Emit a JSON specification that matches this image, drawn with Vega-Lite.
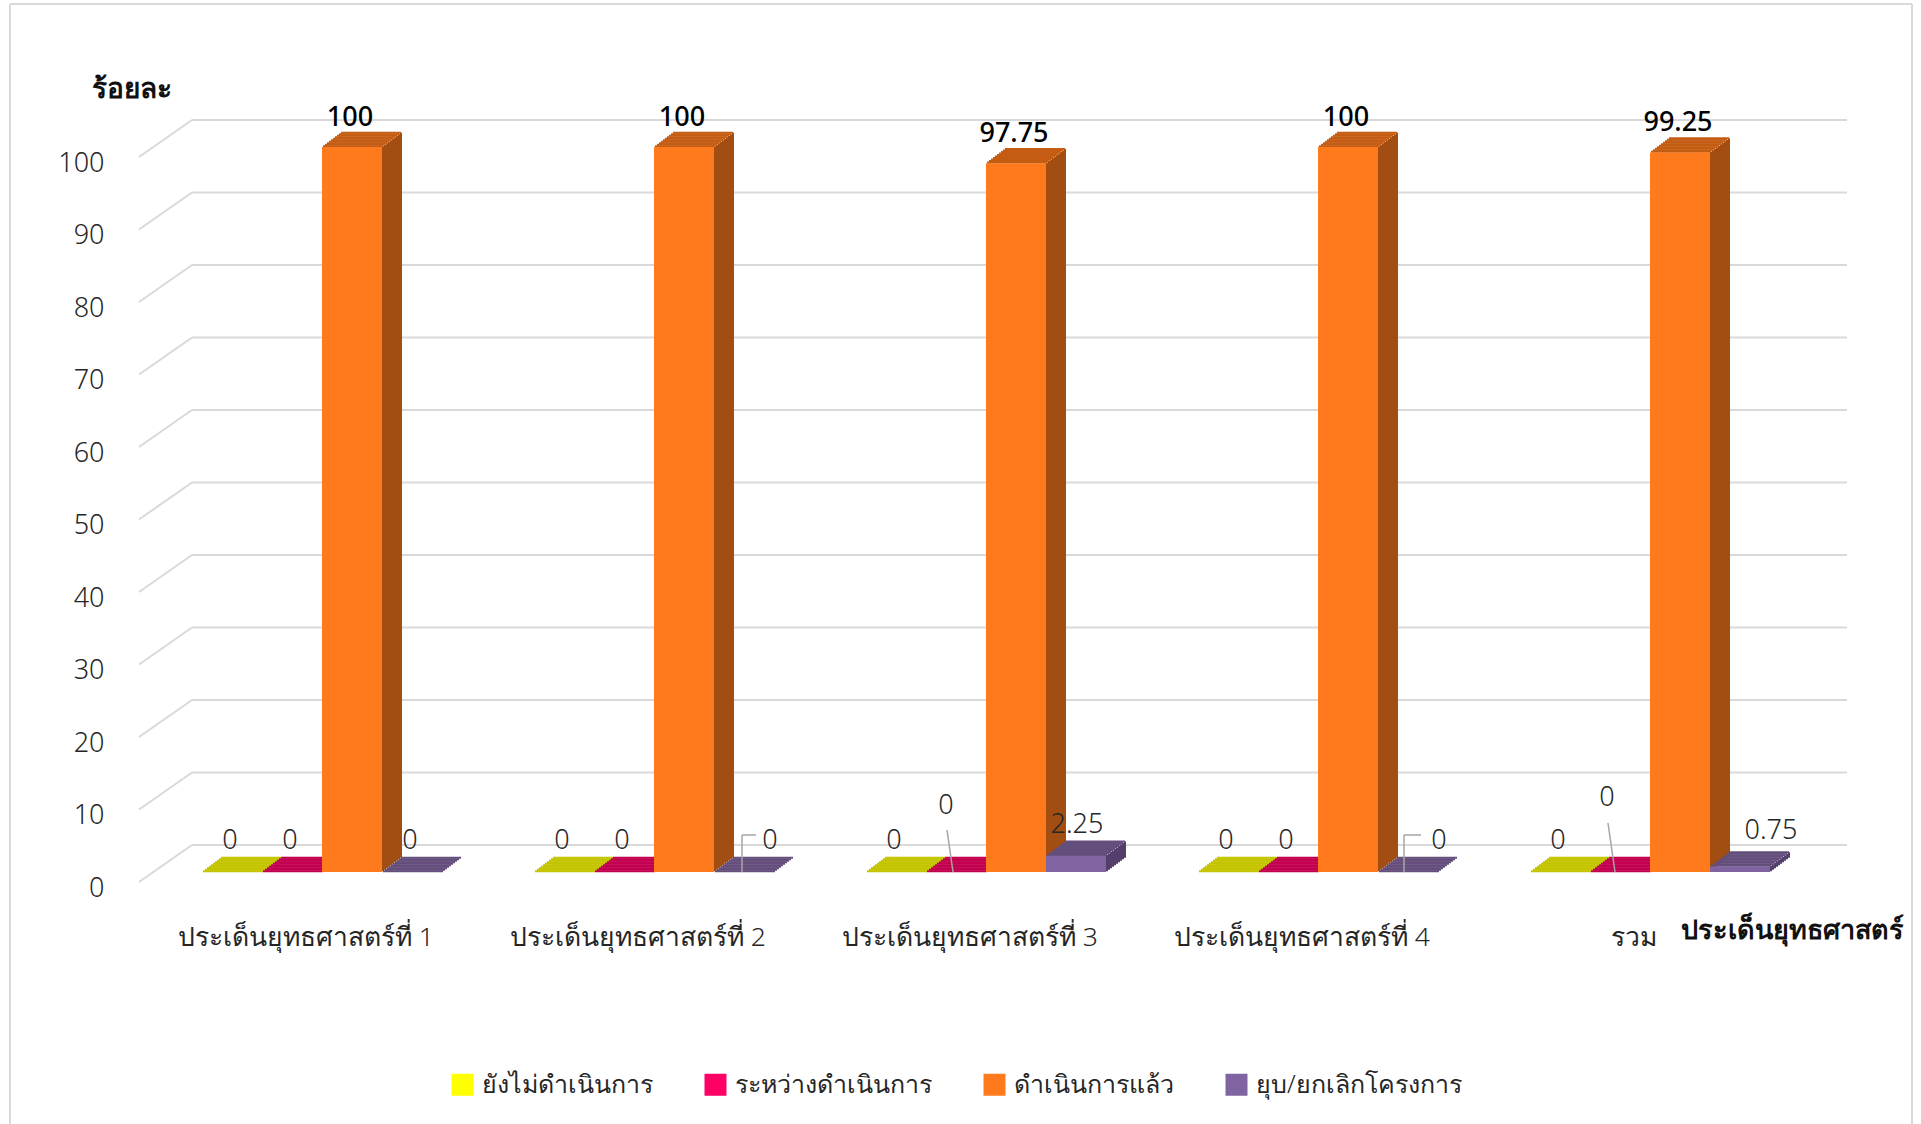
{"$schema":"https://vega.github.io/schema/vega-lite/v6.json","autosize":{"type":"none"},"width":1660,"height":725,"padding":{"left":156,"top":147,"right":105,"bottom":252},"background":"white","config":{"font":"Noto Sans","view":{"stroke":null},"text":{"font":"Noto Sans"},"tick":{"opacity":1},"rule":{"opacity":1}},
"data":{"values":[
{"category":"ประเด็นยุทธศาสตร์ที่ 1","series":"ยังไม่ดำเนินการ","value":0},{"category":"ประเด็นยุทธศาสตร์ที่ 1","series":"ระหว่างดำเนินการ","value":0},{"category":"ประเด็นยุทธศาสตร์ที่ 1","series":"ดำเนินการแล้ว","value":100},{"category":"ประเด็นยุทธศาสตร์ที่ 1","series":"ยุบ/ยกเลิกโครงการ","value":0},
{"category":"ประเด็นยุทธศาสตร์ที่ 2","series":"ยังไม่ดำเนินการ","value":0},{"category":"ประเด็นยุทธศาสตร์ที่ 2","series":"ระหว่างดำเนินการ","value":0},{"category":"ประเด็นยุทธศาสตร์ที่ 2","series":"ดำเนินการแล้ว","value":100},{"category":"ประเด็นยุทธศาสตร์ที่ 2","series":"ยุบ/ยกเลิกโครงการ","value":0},
{"category":"ประเด็นยุทธศาสตร์ที่ 3","series":"ยังไม่ดำเนินการ","value":0},{"category":"ประเด็นยุทธศาสตร์ที่ 3","series":"ระหว่างดำเนินการ","value":0},{"category":"ประเด็นยุทธศาสตร์ที่ 3","series":"ดำเนินการแล้ว","value":97.75},{"category":"ประเด็นยุทธศาสตร์ที่ 3","series":"ยุบ/ยกเลิกโครงการ","value":2.25},
{"category":"ประเด็นยุทธศาสตร์ที่ 4","series":"ยังไม่ดำเนินการ","value":0},{"category":"ประเด็นยุทธศาสตร์ที่ 4","series":"ระหว่างดำเนินการ","value":0},{"category":"ประเด็นยุทธศาสตร์ที่ 4","series":"ดำเนินการแล้ว","value":100},{"category":"ประเด็นยุทธศาสตร์ที่ 4","series":"ยุบ/ยกเลิกโครงการ","value":0},
{"category":"รวม","series":"ยังไม่ดำเนินการ","value":0},{"category":"รวม","series":"ระหว่างดำเนินการ","value":0},{"category":"รวม","series":"ดำเนินการแล้ว","value":99.25},{"category":"รวม","series":"ยุบ/ยกเลิกโครงการ","value":0.75}]},
"layer":[
{"mark":{"type":"bar"},"encoding":{
"x":{"field":"category","type":"nominal","scale":{"domain":["ประเด็นยุทธศาสตร์ที่ 1","ประเด็นยุทธศาสตร์ที่ 2","ประเด็นยุทธศาสตร์ที่ 3","ประเด็นยุทธศาสตร์ที่ 4","รวม"],"paddingInner":0.277,"paddingOuter":0.1385},"axis":{"labelAngle":0,"labelOffset":-16,"labelPadding":52,"labelFontSize":26.5,"labelFontWeight":300,"labelLimit":400,"labelColor":"#262626","ticks":false,"domain":false,"title":"ประเด็นยุทธศาสตร์","titleFontSize":27,"titleFontWeight":"bold","titleColor":"#111","titleX":1636,"titleY":58,"titleAlign":"center","titleBaseline":"middle"}},
"xOffset":{"field":"series","type":"nominal","scale":{"domain":["ยังไม่ดำเนินการ","ระหว่างดำเนินการ","ดำเนินการแล้ว","ยุบ/ยกเลิกโครงการ"],"paddingInner":0,"paddingOuter":0}},
"y":{"datum":0,"type":"quantitative","scale":{"domain":[0,100],"nice":false},"axis":{"values":[0,10,20,30,40,50,60,70,80,90,100],"labelOffset":16,"labelPadding":52,"labelFontSize":27,"labelFontWeight":300,"labelColor":"#262626","ticks":false,"domain":false,"grid":false,"title":"ร้อยละ","titleFontSize":28,"titleFontWeight":"bold","titleColor":"#111","titleAngle":0,"titleX":-25,"titleY":-58,"titleAlign":"center","titleBaseline":"middle"}},
"color":{"field":"series","type":"nominal","scale":{"domain":["ยังไม่ดำเนินการ","ระหว่างดำเนินการ","ดำเนินการแล้ว","ยุบ/ยกเลิกโครงการ"],"range":["#ffff00","#ff0066","#ff7a1c","#8064a2"]},"legend":{"title":null,"orient":"none","direction":"horizontal","legendX":294,"legendY":925,"symbolType":"square","symbolSize":484,"symbolStrokeWidth":0,"labelFontSize":25,"labelFontWeight":300,"labelLimit":400,"labelColor":"#262626","columnPadding":50,"labelOffset":7}}}},
{"data":{"values":[{"f":1}]},"mark":{"type":"rule","color":"#d9d9d9","strokeWidth":2,"xOffset":-312,"x2Offset":262,"yOffset":-143,"y2Offset":-143},"encoding":{"x":{"datum":"ประเด็นยุทธศาสตร์ที่ 1","type":"nominal"},"x2":{"datum":"รวม"},"y":{"datum":100,"type":"quantitative"},"y2":{"datum":100}}},
{"data":{"values":[{"f":1}]},"mark":{"type":"rule","color":"#d9d9d9","strokeWidth":2,"xOffset":-312,"x2Offset":-312,"yOffset":-143,"y2Offset":252},"encoding":{"x":{"datum":"ประเด็นยุทธศาสตร์ที่ 1","type":"nominal"},"x2":{"datum":"ประเด็นยุทธศาสตร์ที่ 1"},"y":{"datum":100,"type":"quantitative"},"y2":{"datum":0}}},
{"data":{"values":[{"f":1}]},"mark":{"type":"rule","color":"#d9d9d9","strokeWidth":2,"xOffset":262,"x2Offset":262,"yOffset":-143,"y2Offset":252},"encoding":{"x":{"datum":"รวม","type":"nominal"},"x2":{"datum":"รวม"},"y":{"datum":100,"type":"quantitative"},"y2":{"datum":0}}},
{"data":{"values":[{"v":0},{"v":10},{"v":20},{"v":30},{"v":40},{"v":50},{"v":60},{"v":70},{"v":80},{"v":90},{"v":100}]},
"layer":[
{"mark":{"type":"rule","color":"#d9d9d9","strokeWidth":2,"xOffset":-130,"x2Offset":197,"yOffset":-27,"y2Offset":-27},"encoding":{"x":{"datum":"ประเด็นยุทธศาสตร์ที่ 1","type":"nominal"},"x2":{"datum":"รวม"},"y":{"field":"v","type":"quantitative"},"y2":{"field":"v"}}},
{"mark":{"type":"rule","color":"#d9d9d9","strokeWidth":2,"xOffset":-183,"x2Offset":-130,"yOffset":10,"y2Offset":-27},"encoding":{"x":{"datum":"ประเด็นยุทธศาสตร์ที่ 1","type":"nominal"},"x2":{"datum":"ประเด็นยุทธศาสตร์ที่ 1"},"y":{"field":"v","type":"quantitative"},"y2":{"field":"v"}}}
]},
{"transform":[{"filter":"datum.value>0"}],
"encoding":{"x":{"field":"category","type":"nominal"},"y":{"field":"value","type":"quantitative"},"y2":{"datum":0},"stroke":{"field":"series","type":"nominal","legend":null,"scale":{"domain":["ยังไม่ดำเนินการ","ระหว่างดำเนินการ","ดำเนินการแล้ว","ยุบ/ยกเลิกโครงการ"],"range":["#9a9a00","#a0003e","#a24e12","#543e6b"]}}},
"layer":[
{"transform":[{"filter":"datum.series=='ดำเนินการแล้ว'"}],"layer":[
{"mark":{"type":"rule","strokeWidth":2,"xOffset":61,"yOffset":-0.75,"y2Offset":-0.75}},
{"mark":{"type":"rule","strokeWidth":2,"xOffset":63,"yOffset":-2.25,"y2Offset":-2.25}},
{"mark":{"type":"rule","strokeWidth":2,"xOffset":65,"yOffset":-3.75,"y2Offset":-3.75}},
{"mark":{"type":"rule","strokeWidth":2,"xOffset":67,"yOffset":-5.25,"y2Offset":-5.25}},
{"mark":{"type":"rule","strokeWidth":2,"xOffset":69,"yOffset":-6.75,"y2Offset":-6.75}},
{"mark":{"type":"rule","strokeWidth":2,"xOffset":71,"yOffset":-8.25,"y2Offset":-8.25}},
{"mark":{"type":"rule","strokeWidth":2,"xOffset":73,"yOffset":-9.75,"y2Offset":-9.75}},
{"mark":{"type":"rule","strokeWidth":2,"xOffset":75,"yOffset":-11.25,"y2Offset":-11.25}},
{"mark":{"type":"rule","strokeWidth":2,"xOffset":77,"yOffset":-12.75,"y2Offset":-12.75}},
{"mark":{"type":"rule","strokeWidth":2,"xOffset":79,"yOffset":-14.25,"y2Offset":-14.25}}
]},
{"transform":[{"filter":"datum.series=='ยุบ/ยกเลิกโครงการ'"}],"layer":[
{"mark":{"type":"rule","strokeWidth":2,"xOffset":121,"yOffset":-0.75,"y2Offset":-0.75}},
{"mark":{"type":"rule","strokeWidth":2,"xOffset":123,"yOffset":-2.25,"y2Offset":-2.25}},
{"mark":{"type":"rule","strokeWidth":2,"xOffset":125,"yOffset":-3.75,"y2Offset":-3.75}},
{"mark":{"type":"rule","strokeWidth":2,"xOffset":127,"yOffset":-5.25,"y2Offset":-5.25}},
{"mark":{"type":"rule","strokeWidth":2,"xOffset":129,"yOffset":-6.75,"y2Offset":-6.75}},
{"mark":{"type":"rule","strokeWidth":2,"xOffset":131,"yOffset":-8.25,"y2Offset":-8.25}},
{"mark":{"type":"rule","strokeWidth":2,"xOffset":133,"yOffset":-9.75,"y2Offset":-9.75}},
{"mark":{"type":"rule","strokeWidth":2,"xOffset":135,"yOffset":-11.25,"y2Offset":-11.25}},
{"mark":{"type":"rule","strokeWidth":2,"xOffset":137,"yOffset":-12.75,"y2Offset":-12.75}},
{"mark":{"type":"rule","strokeWidth":2,"xOffset":139,"yOffset":-14.25,"y2Offset":-14.25}}
]}
]},
{"encoding":{"x":{"field":"category","type":"nominal"},"y":{"field":"value","type":"quantitative"},"fill":{"field":"series","type":"nominal","legend":null,"scale":{"domain":["ยังไม่ดำเนินการ","ระหว่างดำเนินการ","ดำเนินการแล้ว","ยุบ/ยกเลิกโครงการ"],"range":["#c4c400","#c2004f","#c55c14","#644f7c"]}}},
"layer":[
{"transform":[{"filter":"datum.series=='ยังไม่ดำเนินการ'"}],"layer":[
{"mark":{"type":"tick","size":60,"thickness":2,"xOffset":-89,"yOffset":-0.75}},
{"mark":{"type":"tick","size":60,"thickness":2,"xOffset":-87,"yOffset":-2.25}},
{"mark":{"type":"tick","size":60,"thickness":2,"xOffset":-85,"yOffset":-3.75}},
{"mark":{"type":"tick","size":60,"thickness":2,"xOffset":-83,"yOffset":-5.25}},
{"mark":{"type":"tick","size":60,"thickness":2,"xOffset":-81,"yOffset":-6.75}},
{"mark":{"type":"tick","size":60,"thickness":2,"xOffset":-79,"yOffset":-8.25}},
{"mark":{"type":"tick","size":60,"thickness":2,"xOffset":-77,"yOffset":-9.75}},
{"mark":{"type":"tick","size":60,"thickness":2,"xOffset":-75,"yOffset":-11.25}},
{"mark":{"type":"tick","size":60,"thickness":2,"xOffset":-73,"yOffset":-12.75}},
{"mark":{"type":"tick","size":60,"thickness":2,"xOffset":-71,"yOffset":-14.25}}
]},
{"transform":[{"filter":"datum.series=='ระหว่างดำเนินการ'"}],"layer":[
{"mark":{"type":"tick","size":60,"thickness":2,"xOffset":-29,"yOffset":-0.75}},
{"mark":{"type":"tick","size":60,"thickness":2,"xOffset":-27,"yOffset":-2.25}},
{"mark":{"type":"tick","size":60,"thickness":2,"xOffset":-25,"yOffset":-3.75}},
{"mark":{"type":"tick","size":60,"thickness":2,"xOffset":-23,"yOffset":-5.25}},
{"mark":{"type":"tick","size":60,"thickness":2,"xOffset":-21,"yOffset":-6.75}},
{"mark":{"type":"tick","size":60,"thickness":2,"xOffset":-19,"yOffset":-8.25}},
{"mark":{"type":"tick","size":60,"thickness":2,"xOffset":-17,"yOffset":-9.75}},
{"mark":{"type":"tick","size":60,"thickness":2,"xOffset":-15,"yOffset":-11.25}},
{"mark":{"type":"tick","size":60,"thickness":2,"xOffset":-13,"yOffset":-12.75}},
{"mark":{"type":"tick","size":60,"thickness":2,"xOffset":-11,"yOffset":-14.25}}
]},
{"transform":[{"filter":"datum.series=='ดำเนินการแล้ว'"}],"layer":[
{"mark":{"type":"tick","size":60,"thickness":2,"xOffset":31,"yOffset":-0.75}},
{"mark":{"type":"tick","size":60,"thickness":2,"xOffset":33,"yOffset":-2.25}},
{"mark":{"type":"tick","size":60,"thickness":2,"xOffset":35,"yOffset":-3.75}},
{"mark":{"type":"tick","size":60,"thickness":2,"xOffset":37,"yOffset":-5.25}},
{"mark":{"type":"tick","size":60,"thickness":2,"xOffset":39,"yOffset":-6.75}},
{"mark":{"type":"tick","size":60,"thickness":2,"xOffset":41,"yOffset":-8.25}},
{"mark":{"type":"tick","size":60,"thickness":2,"xOffset":43,"yOffset":-9.75}},
{"mark":{"type":"tick","size":60,"thickness":2,"xOffset":45,"yOffset":-11.25}},
{"mark":{"type":"tick","size":60,"thickness":2,"xOffset":47,"yOffset":-12.75}},
{"mark":{"type":"tick","size":60,"thickness":2,"xOffset":49,"yOffset":-14.25}}
]},
{"transform":[{"filter":"datum.series=='ยุบ/ยกเลิกโครงการ'"}],"layer":[
{"mark":{"type":"tick","size":60,"thickness":2,"xOffset":91,"yOffset":-0.75}},
{"mark":{"type":"tick","size":60,"thickness":2,"xOffset":93,"yOffset":-2.25}},
{"mark":{"type":"tick","size":60,"thickness":2,"xOffset":95,"yOffset":-3.75}},
{"mark":{"type":"tick","size":60,"thickness":2,"xOffset":97,"yOffset":-5.25}},
{"mark":{"type":"tick","size":60,"thickness":2,"xOffset":99,"yOffset":-6.75}},
{"mark":{"type":"tick","size":60,"thickness":2,"xOffset":101,"yOffset":-8.25}},
{"mark":{"type":"tick","size":60,"thickness":2,"xOffset":103,"yOffset":-9.75}},
{"mark":{"type":"tick","size":60,"thickness":2,"xOffset":105,"yOffset":-11.25}},
{"mark":{"type":"tick","size":60,"thickness":2,"xOffset":107,"yOffset":-12.75}},
{"mark":{"type":"tick","size":60,"thickness":2,"xOffset":109,"yOffset":-14.25}}
]}
]},
{"mark":{"type":"bar"},"encoding":{"x":{"field":"category","type":"nominal"},"xOffset":{"field":"series","type":"nominal"},"y":{"field":"value","type":"quantitative"},"color":{"field":"series","type":"nominal"}}},
{"encoding":{"x":{"field":"category","type":"nominal"},"xOffset":{"field":"series","type":"nominal"},"y":{"field":"value","type":"quantitative"},"text":{"field":"value","type":"quantitative"}},
"layer":[
{"transform":[{"filter":"datum.series=='ดำเนินการแล้ว'"}],"mark":{"type":"text","fontSize":27,"fontWeight":500,"color":"#000","dx":-2,"dy":-29,"baseline":"middle"}},
{"transform":[{"filter":"datum.series=='ยังไม่ดำเนินการ' || (datum.series=='ระหว่างดำเนินการ' && datum.category!='รวม' && datum.category!='ประเด็นยุทธศาสตร์ที่ 3') || (datum.series=='ยุบ/ยกเลิกโครงการ' && datum.category=='ประเด็นยุทธศาสตร์ที่ 1')"}],"mark":{"type":"text","fontSize":27,"fontWeight":300,"color":"#262626","dx":-2,"dy":-31,"baseline":"middle"}},
{"transform":[{"filter":"datum.series=='ยุบ/ยกเลิกโครงการ' && datum.category=='ประเด็นยุทธศาสตร์ที่ 3'"}],"mark":{"type":"text","fontSize":27,"fontWeight":300,"color":"#262626","dx":1,"dy":-31,"baseline":"middle"}},
{"transform":[{"filter":"datum.series=='ยุบ/ยกเลิกโครงการ' && datum.category=='ประเด็นยุทธศาสตร์ที่ 2'"}],"mark":{"type":"text","fontSize":27,"fontWeight":300,"color":"#262626","dx":26,"dy":-31,"baseline":"middle"}},
{"transform":[{"filter":"datum.series=='ยุบ/ยกเลิกโครงการ' && datum.category=='ประเด็นยุทธศาสตร์ที่ 4'"}],"mark":{"type":"text","fontSize":27,"fontWeight":300,"color":"#262626","dx":31,"dy":-31,"baseline":"middle"}},
{"transform":[{"filter":"datum.series=='ระหว่างดำเนินการ' && datum.category=='ประเด็นยุทธศาสตร์ที่ 3'"}],"mark":{"type":"text","fontSize":27,"fontWeight":300,"color":"#262626","dx":-10,"dy":-66,"baseline":"middle"}},
{"transform":[{"filter":"datum.series=='ระหว่างดำเนินการ' && datum.category=='รวม'"}],"mark":{"type":"text","fontSize":27,"fontWeight":300,"color":"#262626","dx":-13,"dy":-74,"baseline":"middle"}},
{"transform":[{"filter":"datum.series=='ยุบ/ยกเลิกโครงการ' && datum.category=='รวม'"}],"mark":{"type":"text","fontSize":27,"fontWeight":300,"color":"#262626","dx":31,"dy":-36,"baseline":"middle"}}
]},
{"data":{"values":[{"f":1}]},"mark":{"type":"rule","color":"#a6a6a6","strokeWidth":1.5,"xOffset":-33,"x2Offset":-39,"y2Offset":-42},"encoding":{"x":{"datum":"ประเด็นยุทธศาสตร์ที่ 3","type":"nominal"},"x2":{"datum":"ประเด็นยุทธศาสตร์ที่ 3"},"y":{"datum":0,"type":"quantitative"},"y2":{"datum":0}}},
{"data":{"values":[{"f":1}]},"mark":{"type":"rule","color":"#a6a6a6","strokeWidth":1.5,"xOffset":-35,"x2Offset":-42,"y2Offset":-49},"encoding":{"x":{"datum":"รวม","type":"nominal"},"x2":{"datum":"รวม"},"y":{"datum":0,"type":"quantitative"},"y2":{"datum":0}}},
{"data":{"values":[{"f":1}]},"mark":{"type":"rule","color":"#a6a6a6","strokeWidth":1.5,"xOffset":88,"x2Offset":88,"y2Offset":-37},"encoding":{"x":{"datum":"ประเด็นยุทธศาสตร์ที่ 2","type":"nominal"},"x2":{"datum":"ประเด็นยุทธศาสตร์ที่ 2"},"y":{"datum":0,"type":"quantitative"},"y2":{"datum":0}}},
{"data":{"values":[{"f":1}]},"mark":{"type":"rule","color":"#a6a6a6","strokeWidth":1.5,"xOffset":88,"x2Offset":102,"yOffset":-37,"y2Offset":-37},"encoding":{"x":{"datum":"ประเด็นยุทธศาสตร์ที่ 2","type":"nominal"},"x2":{"datum":"ประเด็นยุทธศาสตร์ที่ 2"},"y":{"datum":0,"type":"quantitative"},"y2":{"datum":0}}},
{"data":{"values":[{"f":1}]},"mark":{"type":"rule","color":"#a6a6a6","strokeWidth":1.5,"xOffset":86,"x2Offset":86,"y2Offset":-37},"encoding":{"x":{"datum":"ประเด็นยุทธศาสตร์ที่ 4","type":"nominal"},"x2":{"datum":"ประเด็นยุทธศาสตร์ที่ 4"},"y":{"datum":0,"type":"quantitative"},"y2":{"datum":0}}},
{"data":{"values":[{"f":1}]},"mark":{"type":"rule","color":"#a6a6a6","strokeWidth":1.5,"xOffset":86,"x2Offset":103,"yOffset":-37,"y2Offset":-37},"encoding":{"x":{"datum":"ประเด็นยุทธศาสตร์ที่ 4","type":"nominal"},"x2":{"datum":"ประเด็นยุทธศาสตร์ที่ 4"},"y":{"datum":0,"type":"quantitative"},"y2":{"datum":0}}}
]}
